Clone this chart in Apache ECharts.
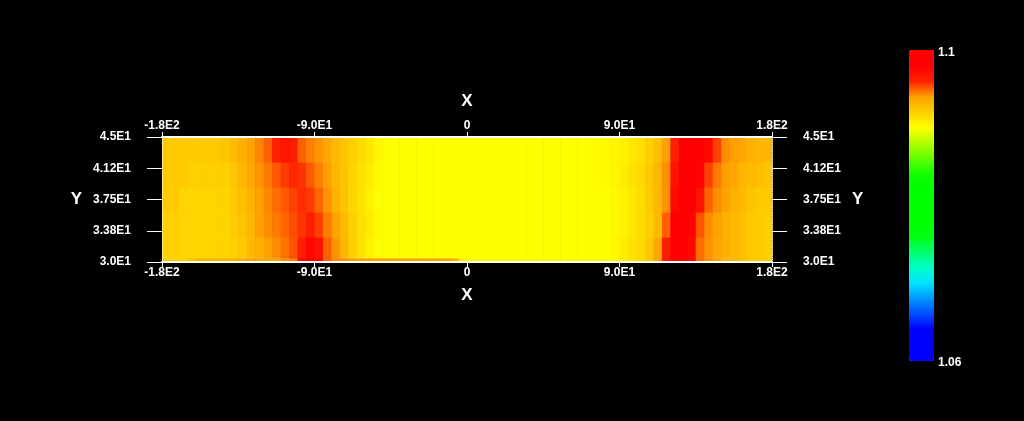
<!DOCTYPE html>
<html>
<head>
<meta charset="utf-8">
<style>
html,body{margin:0;padding:0;background:#000;}
#chart{width:1024px;height:421px;}
</style>
<script src="https://cdn.jsdelivr.net/npm/echarts@6/dist/echarts.min.js"></script>
</head>
<body>
<div id="chart"></div>
<script>
// ---------- data ----------
var xMin = -180, xMax = 180, xStep = 5;      // grid of 72 columns, 5 degrees wide
var yMin = 30, yMax = 45;
var xTickLabels = ['-1.8E2', '-9.0E1', '0', '9.0E1', '1.8E2'];
var yTickLabels = ['3.0E1', '3.38E1', '3.75E1', '4.12E1', '4.5E1'];
var colorMin = 1.06, colorMax = 1.1;

// row extents (Y values), bottom to top
var rowLo = [30, 30.5, 33, 36, 39, 42];
var rowHi = [30.5, 33, 36, 39, 42, 45];

var zStrip = [1.0920,1.0920,1.0918,1.0925,1.0933,1.0933,1.0933,1.0933,1.0933,1.0933,
  1.0937,1.0937,1.0937,1.0937,1.0943,1.0945,1.0975,1.0978,1.0975,1.0950,
  1.0942,1.0942,1.0940,1.0940,1.0940,1.0940,1.0940,1.0940,1.0940,1.0940,
  1.0940,1.0940,1.0940,1.0940,1.0935,1.0905,1.0900,1.0900,1.0900,1.0900,
  1.0900,1.0900,1.0900,1.0900,1.0900,1.0900,1.0900,1.0900,1.0900,1.0900,
  1.0900,1.0900,1.0900,1.0904,1.0908,1.0912,1.0916,1.0923,1.0937,1.0966,
  1.0980,1.0980,1.0976,1.0948,1.0942,1.0937,1.0933,1.0930,1.0927,1.0923,
  1.0922,1.0920];
var z30 = [1.0920,1.0920,1.0918,1.0918,1.0918,1.0918,1.0918,1.0918,1.0920,1.0923,
  1.0929,1.0933,1.0940,1.0943,1.0947,1.0952,1.0962,1.0975,1.0968,1.0950,
  1.0942,1.0930,1.0920,1.0912,1.0906,1.0901,1.0900,1.0900,1.0900,1.0900,
  1.0900,1.0900,1.0900,1.0900,1.0900,1.0900,1.0900,1.0900,1.0900,1.0900,
  1.0900,1.0900,1.0900,1.0900,1.0900,1.0900,1.0900,1.0900,1.0900,1.0900,
  1.0900,1.0900,1.0900,1.0904,1.0908,1.0912,1.0916,1.0923,1.0937,1.0962,
  1.0980,1.0980,1.0974,1.0948,1.0942,1.0937,1.0933,1.0930,1.0927,1.0923,
  1.0922,1.0920];
var z33 = [1.0920,1.0920,1.0918,1.0918,1.0918,1.0918,1.0918,1.0918,1.0922,1.0925,
  1.0931,1.0939,1.0943,1.0946,1.0949,1.0953,1.0957,1.0962,1.0955,1.0946,
  1.0939,1.0929,1.0920,1.0913,1.0908,1.0902,1.0900,1.0900,1.0900,1.0900,
  1.0900,1.0900,1.0900,1.0900,1.0900,1.0900,1.0900,1.0900,1.0900,1.0900,
  1.0900,1.0900,1.0900,1.0900,1.0900,1.0900,1.0900,1.0900,1.0900,1.0900,
  1.0900,1.0900,1.0900,1.0902,1.0906,1.0910,1.0915,1.0920,1.0930,1.0950,
  1.0980,1.0980,1.0978,1.0952,1.0943,1.0939,1.0933,1.0930,1.0927,1.0923,
  1.0922,1.0920];
var z36 = [1.0922,1.0922,1.0918,1.0918,1.0918,1.0918,1.0918,1.0918,1.0922,1.0927,
  1.0933,1.0940,1.0944,1.0948,1.0951,1.0955,1.0958,1.0956,1.0949,1.0942,
  1.0933,1.0925,1.0918,1.0912,1.0906,1.0901,1.0900,1.0900,1.0900,1.0900,
  1.0900,1.0900,1.0900,1.0900,1.0900,1.0900,1.0900,1.0900,1.0900,1.0900,
  1.0900,1.0900,1.0900,1.0900,1.0900,1.0900,1.0900,1.0900,1.0900,1.0900,
  1.0900,1.0900,1.0901,1.0902,1.0906,1.0910,1.0915,1.0922,1.0930,1.0942,
  1.0974,1.0980,1.0980,1.0968,1.0950,1.0943,1.0939,1.0933,1.0929,1.0925,
  1.0922,1.0922];
var z39 = [1.0923,1.0923,1.0923,1.0920,1.0920,1.0920,1.0920,1.0920,1.0925,1.0930,
  1.0937,1.0942,1.0946,1.0951,1.0956,1.0959,1.0957,1.0951,1.0945,1.0940,
  1.0931,1.0925,1.0918,1.0913,1.0908,1.0902,1.0900,1.0900,1.0900,1.0900,
  1.0900,1.0900,1.0900,1.0900,1.0900,1.0900,1.0900,1.0900,1.0900,1.0900,
  1.0900,1.0900,1.0900,1.0900,1.0900,1.0900,1.0900,1.0900,1.0900,1.0900,
  1.0900,1.0901,1.0902,1.0904,1.0908,1.0912,1.0916,1.0923,1.0931,1.0943,
  1.0968,1.0980,1.0980,1.0978,1.0955,1.0946,1.0940,1.0937,1.0931,1.0929,
  1.0927,1.0925];
var z42 = [1.0923,1.0923,1.0923,1.0922,1.0922,1.0922,1.0923,1.0925,1.0929,1.0933,
  1.0940,1.0944,1.0950,1.0960,1.0966,1.0962,1.0950,1.0945,1.0942,1.0937,
  1.0930,1.0925,1.0920,1.0915,1.0910,1.0904,1.0900,1.0900,1.0900,1.0900,
  1.0900,1.0900,1.0900,1.0900,1.0900,1.0900,1.0900,1.0900,1.0900,1.0900,
  1.0900,1.0900,1.0900,1.0900,1.0900,1.0900,1.0900,1.0900,1.0900,1.0900,
  1.0900,1.0901,1.0902,1.0904,1.0906,1.0910,1.0913,1.0920,1.0927,1.0940,
  1.0960,1.0980,1.0980,1.0980,1.0976,1.0955,1.0943,1.0940,1.0937,1.0933,
  1.0931,1.0930];

// ---------- build ----------
var rows = [zStrip, z30, z33, z36, z39, z42];
var cells = [];
rows.forEach(function (r, k) {
  r.forEach(function (v, i) {
    cells.push([xMin + i * xStep, xMin + (i + 1) * xStep, rowLo[k], rowHi[k], v]);
  });
});

var FONT = 'Liberation Sans, Arial, sans-serif';
var xInterval = (xMax - xMin) / (xTickLabels.length - 1);
var yInterval = (yMax - yMin) / (yTickLabels.length - 1);
function xLab(v) { return xTickLabels[Math.round((v - xMin) / xInterval)] || ''; }
function yLab(v) { return yTickLabels[Math.round((v - yMin) / yInterval)] || ''; }

function xAxisOpt(pos) {
  return {
    type: 'value', position: pos, min: xMin, max: xMax, interval: xInterval, z: 10,
    name: 'X', nameLocation: 'middle', nameGap: pos === 'top' ? 27 : 25,
    nameTextStyle: { color: '#fff', fontWeight: 'bold', fontSize: 17, fontFamily: FONT },
    axisLine: { show: true, onZero: false, lineStyle: { color: '#fff', width: 2 } },
    axisTick: { show: true, length: 5, lineStyle: { color: '#fff', width: 1 } },
    axisLabel: { color: '#fff', fontWeight: 'bold', fontSize: 12, fontFamily: FONT, margin: 5, formatter: xLab },
    splitLine: { show: false }
  };
}
function yAxisOpt(pos) {
  return {
    type: 'value', position: pos, min: yMin, max: yMax, interval: yInterval, z: 10,
    name: 'Y', nameLocation: 'middle', nameRotate: 0, nameGap: pos === 'left' ? 80 : 80,
    nameTextStyle: { color: '#fff', fontWeight: 'bold', fontSize: 17, fontFamily: FONT },
    axisLine: { show: true, onZero: false, lineStyle: { color: '#ffee99', width: 1, type: 'dotted' } },
    axisTick: { show: true, length: 15, lineStyle: { color: '#fff', width: 1 } },
    axisLabel: { color: '#fff', fontWeight: 'bold', fontSize: 12, fontFamily: FONT, margin: 31, formatter: yLab },
    splitLine: { show: false }
  };
}

var chart = echarts.init(document.getElementById('chart'), null, { renderer: 'canvas' });
chart.setOption({
  backgroundColor: '#000',
  animation: false,
  grid: { left: 162, right: 252, top: 137, bottom: 159, containLabel: false },
  xAxis: [xAxisOpt('bottom'), xAxisOpt('top')],
  yAxis: [yAxisOpt('left'), yAxisOpt('right')],
  visualMap: {
    type: 'continuous', min: colorMin, max: colorMax, dimension: 4, seriesIndex: 0,
    orient: 'vertical', left: 909, top: 50, itemWidth: 25, itemHeight: 311, padding: 0,
    calculable: false, hoverLink: false, text: null, showLabel: false,
    inRange: {
      color: ['#0000ff', '#0000ff', '#0000ff', '#004bff', '#0096ff', '#00e1ff', '#00ffc8',
        '#00ff6d', '#00ff12', '#00ff00', '#00ff00', '#00ff00', '#10ff00', '#60ff00',
        '#b0ff00', '#ffff00', '#ffd000', '#ffa000', '#ff2000', '#ff0000', '#ff0000']
    }
  },
  graphic: [
    { type: 'text', left: 938, top: 47, style: { text: String(colorMax), fill: '#fff', font: 'bold 12px ' + FONT } },
    { type: 'text', left: 938, top: 357, style: { text: String(colorMin), fill: '#fff', font: 'bold 12px ' + FONT } }
  ],
  series: [{
    type: 'custom',
    coordinateSystem: 'cartesian2d',
    xAxisIndex: 0, yAxisIndex: 0,
    clip: true,
    data: cells,
    encode: { x: [0, 1], y: [2, 3] },
    renderItem: function (params, api) {
      var p0 = api.coord([api.value(0), api.value(3)]);
      var p1 = api.coord([api.value(1), api.value(2)]);
      return {
        type: 'rect',
        shape: { x: p0[0], y: p0[1], width: p1[0] - p0[0] + 0.6, height: p1[1] - p0[1] + 0.6 },
        style: { fill: api.visual('color') }
      };
    }
  }]
});
</script>
</body>
</html>
